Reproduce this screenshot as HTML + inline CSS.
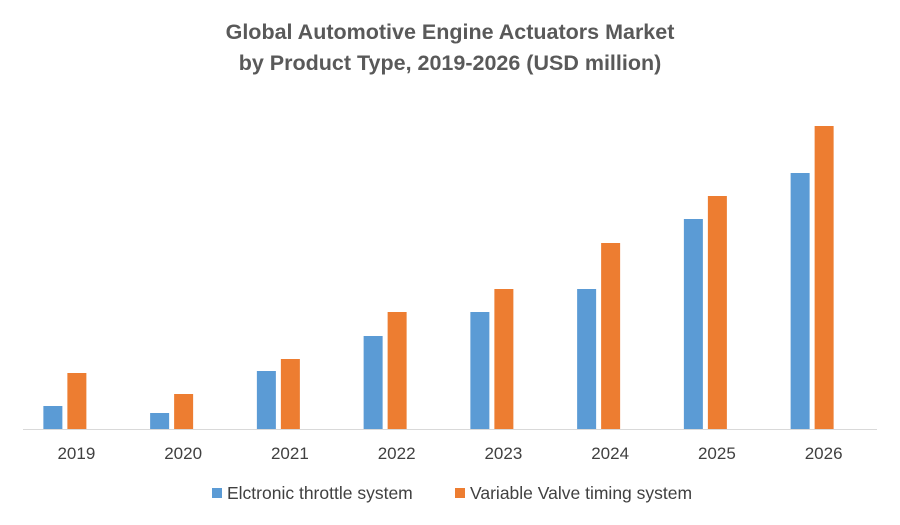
<!DOCTYPE html>
<html><head><meta charset="utf-8"><style>
body{margin:0;background:#fff;font-family:"Liberation Sans",sans-serif;}
svg{display:block}
</style></head><body>
<svg id="chart" width="900" height="525">
<text x="450" y="39" text-anchor="middle" font-size="21.5" font-weight="bold" fill="#595959">Global Automotive Engine Actuators Market</text>
<text x="450" y="70" text-anchor="middle" font-size="21.5" font-weight="bold" fill="#595959">by Product Type, 2019-2026 (USD million)</text>
<g id="bars"></g>
<line x1="23" y1="429.5" x2="877" y2="429.5" stroke="#d9d9d9" stroke-width="1"/>
<g id="labels"></g>
<g>
<rect x="212" y="488" width="10" height="10" fill="#5b9bd5"/>
<text x="227" y="499" font-size="17.5" fill="#404040">Elctronic throttle system</text>
<rect x="455" y="488" width="10" height="10" fill="#ed7d31"/>
<text x="470" y="499" font-size="17.5" fill="#404040">Variable Valve timing system</text>
</g>
</svg>
<script>
const categories=["2019","2020","2021","2022","2023","2024","2025","2026"];
const electronic=[23,16,58,93,117,140,210,256];
const vvt=[56,35,70,117,140,186,233,303];
const x0=23,x1=877,base=429,yMax=350;
const band=(x1-x0)/categories.length;
const ys=v=>base-v/yMax*350;
const bx=i=>x0+band*i+band/2;
const ns="http://www.w3.org/2000/svg";
const gb=document.getElementById('bars'),gl=document.getElementById('labels');
categories.forEach((c,i)=>{
  const cx=bx(i);
  [[electronic,"#5b9bd5","bar-electronic-"],[vvt,"#ed7d31","bar-vvt-"]].forEach(([arr,col,nm],k)=>{
    const r=document.createElementNS(ns,'rect');
    const x=k===0?cx-33:cx-9;
    r.setAttribute('x',x);r.setAttribute('width',19);
    r.setAttribute('y',ys(arr[i]));r.setAttribute('height',base-ys(arr[i]));
    r.setAttribute('fill',col);
    
    
    gb.appendChild(r);
  });
  const t=document.createElementNS(ns,'text');
  t.setAttribute('x',cx);t.setAttribute('y',459);
  t.setAttribute('text-anchor','middle');t.setAttribute('font-size','17');t.setAttribute('fill','#404040');
  t.textContent=c;
  
  
  gl.appendChild(t);
});
</script>
</body></html>
